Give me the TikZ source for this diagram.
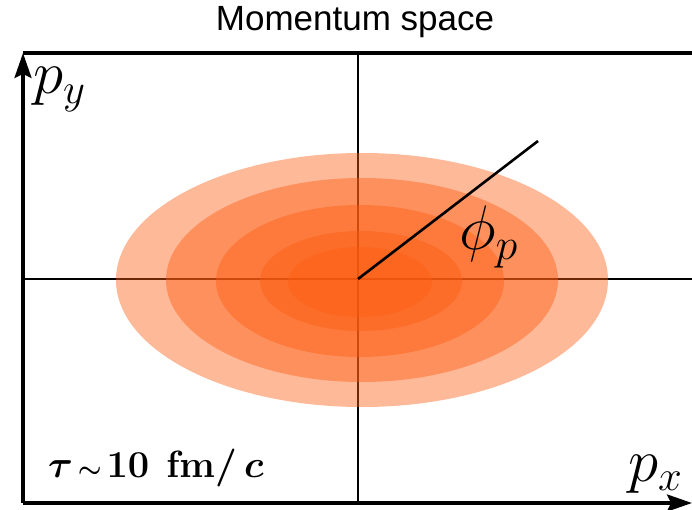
\documentclass[tikz,border=0pt]{standalone}
\usepackage{fix-cm}
\usepackage{fontspec}
\newfontfamily\titlefont{Liberation Sans}
\usetikzlibrary{arrows.meta}
\definecolor{blob}{RGB}{252,92,16}
\newsavebox{\taubox}
\sbox{\taubox}{\fontsize{38}{38}\selectfont\boldmath$\tau\mskip2mu{\scriptstyle\sim}\mskip2mu 10\mskip7mu\mathbf{fm}/\mskip3mu c$}
\begin{document}
\begin{tikzpicture}[x=1pt,y=-1pt,
  frame/.style={line width=3.2pt},
  axis/.style={line width=2.1pt},
  layer/.style={fill=blob,fill opacity=0.43},
  lbl/.style={inner sep=0pt,anchor=base west},
  tip/.style={-{Stealth[length=25pt,width=17pt,inset=4pt]}}]
\useasboundingbox (0,0) rectangle (692,510);
% frame corners
\coordinate (bl) at (23,503);
\coordinate (tl) at (23,53);
\coordinate (tr) at (692,53);
\coordinate (br) at (692,503);
% axes
\coordinate (c) at (358,279);
\coordinate (vt) at (358,53);
\coordinate (vb) at (358,503);
\coordinate (hl) at (25,279);
\coordinate (hr) at (692,279);
\coordinate (pe) at (538,141);
\draw[axis] (vt) -- (vb);
\draw[axis] (hl) -- (hr);
% distribution
\fill[layer] (362,280) ellipse [x radius=246, y radius=127];
\fill[layer] (362,280) ellipse [x radius=196, y radius=102];
\fill[layer] (360,281) ellipse [x radius=144, y radius=76];
\fill[layer] (361,281) ellipse [x radius=101, y radius=50];
\fill[layer] (360,282) ellipse [x radius=72, y radius=35];
% frame
\draw[frame] (tl) -- (tr);
\draw[frame,tip] (bl) -- (tl);
\draw[frame,tip] (bl) -- (br);
% phi line
\draw[line width=2.6pt] (c) -- (pe);
% labels
\node[inner sep=0pt] (title) at (355,22) {\titlefont\fontsize{35}{35}\selectfont Momentum space};
\node[lbl] (py) at (33,94) {\fontsize{61}{61}\selectfont$p_y$};
\node[lbl] (px) at (628,481) {\fontsize{61}{61}\selectfont$p_x$};
\node[lbl] (phi) at (459,250) {\fontsize{63}{63}\selectfont$\phi_p$};
\node[lbl] (taulbl) at (48,477) {\usebox{\taubox}};
\end{tikzpicture}
\end{document}
